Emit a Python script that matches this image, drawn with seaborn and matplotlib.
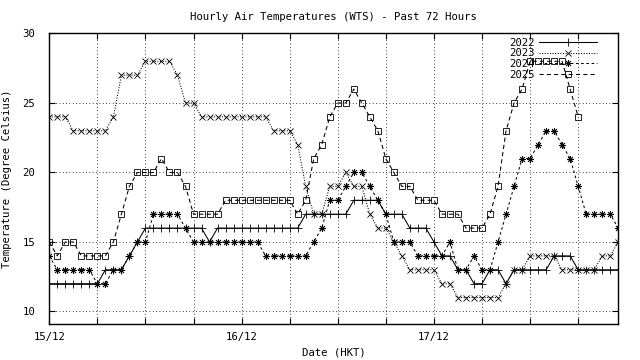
import matplotlib
matplotlib.use("Agg")
import matplotlib.pyplot as plt
import numpy as np
import pandas as pd
import seaborn as sns

# hourly readings, hour 0 = 15/12 00:00
t2022 = [12, 12, 12, 12, 12, 12, 12, 13, 13, 13,
         14, 15, 16, 16, 16, 16, 16, 16, 16, 16,
         15, 16, 16, 16, 16, 16, 16, 16, 16, 16,
         16, 16, 17, 17, 17, 17, 17, 17, 18, 18,
         18, 18, 17, 17, 17, 16, 16, 16, 15, 14,
         14, 13, 13, 12, 12, 13, 13, 12, 13, 13,
         13, 13, 13, 14, 14, 14, 13, 13, 13, 13,
         13, 13]
t2023 = [24, 24, 24, 23, 23, 23, 23, 23, 24, 27,
         27, 27, 28, 28, 28, 28, 27, 25, 25, 24,
         24, 24, 24, 24, 24, 24, 24, 24, 23, 23,
         23, 22, 19, 17, 17, 19, 19, 20, 19, 19,
         17, 16, 16, 15, 14, 13, 13, 13, 13, 12,
         12, 11, 11, 11, 11, 11, 11, 12, 13, 13,
         14, 14, 14, 14, 13, 13, 13, 13, 13, 14,
         14, 15]
t2024 = [14, 13, 13, 13, 13, 13, 12, 12, 13, 13,
         14, 15, 15, 17, 17, 17, 17, 16, 15, 15,
         15, 15, 15, 15, 15, 15, 15, 14, 14, 14,
         14, 14, 14, 15, 16, 18, 18, 19, 20, 20,
         19, 18, 17, 15, 15, 15, 14, 14, 14, 14,
         15, 13, 13, 14, 13, 13, 15, 17, 19, 21,
         21, 22, 23, 23, 22, 21, 19, 17, 17, 17,
         17, 16]
t2025 = [15, 14, 15, 15, 14, 14, 14, 14, 15, 17,
         19, 20, 20, 20, 21, 20, 20, 19, 17, 17,
         17, 17, 18, 18, 18, 18, 18, 18, 18, 18,
         18, 17, 18, 21, 22, 24, 25, 25, 26, 25,
         24, 23, 21, 20, 19, 19, 18, 18, 18, 17,
         17, 17, 16, 16, 16, 17, 19, 23, 25, 26,
         28, 28, 28, 28, 28, 26, 24]

years = ["2022", "2023", "2024", "2025"]
temps = [t2022, t2023, t2024, t2025]
tick_hours = [0, 6, 12, 18, 24, 30, 36, 42, 48, 54, 60, 66]
tick_labels = ["15/12", "", "", "", "16/12", "", "", "", "17/12", "", "", ""]

# gnuplot-ish look: one marker/dash style per year
styles = {
    "2022": dict(marker="+", ls="-", ms=5.5),
    "2023": dict(marker="x", ls=(0, (1, 1.5)), ms=3.8),
    "2024": dict(marker=(8, 2, 0), ls=(0, (2.5, 2.5)), ms=5),
    "2025": dict(marker="s", ls=(0, (4, 3)), ms=4, mfc="none"),
}

FS = 7.7
plt.rcParams["font.family"] = ["DejaVu Sans Mono"]
fig, ax = plt.subplots(figsize=(6.4, 3.6), dpi=100)
fig.subplots_adjust(left=0.077, right=0.966, top=0.907, bottom=0.10)

for year, vals in zip(years, temps):
    df = pd.DataFrame({"hour": np.arange(len(vals)), "temp": vals})
    sns.lineplot(data=df, x="hour", y="temp", ax=ax, color="black",
                 linewidth=0.75, mec="black", mew=0.6, label=year,
                 **styles[year])

ax.set_xlim(0, 71)
ax.set_ylim(9.1, 30)
ax.set_xticks(tick_hours)
ax.set_xticklabels(tick_labels)
ax.set_yticks([10, 15, 20, 25, 30])
ax.grid(True, color="black", linestyle=(0, (1, 3)), linewidth=0.6)
ax.tick_params(direction="in", length=4, top=True, right=True,
               labelsize=FS, width=0.8)
ax.tick_params(axis="y", pad=10)
ax.tick_params(axis="x", pad=6)
for sp in ax.spines.values():
    sp.set_linewidth(1.0)

ax.set_title("Hourly Air Temperatures (WTS) - Past 72 Hours", fontsize=FS, pad=10)
ax.set_xlabel("Date (HKT)", fontsize=FS, labelpad=4)
ax.set_ylabel("Temperature (Degree Celsius)", fontsize=FS, labelpad=8)

ax.legend(loc="upper right", bbox_to_anchor=(0.972, 1.003), frameon=False,
          markerfirst=False, handlelength=5.4, fontsize=FS,
          labelspacing=0.05, borderpad=0.0, handletextpad=0.45)

fig.savefig("out.png", dpi=100)
